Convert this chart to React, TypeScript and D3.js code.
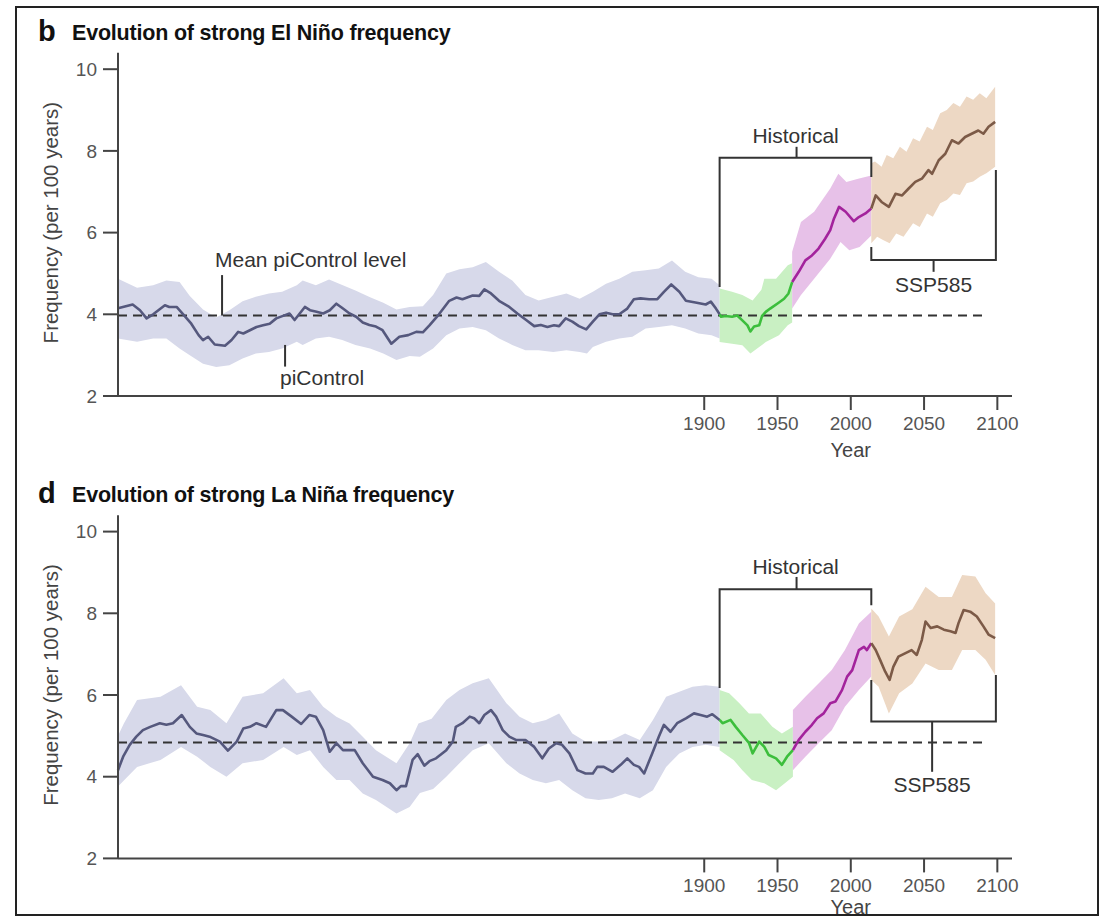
import React from "react";
import * as d3 from "d3";

type P = [number, number];

// ---------- axes ----------
const yearTicks = [1900, 1950, 2000, 2050, 2100];
const freqTicks = [2, 4, 6, 8, 10];

// ---------- El Niño (panel b) ----------
const elPiMean: P[] = [
  [1500, 4.15], [1510, 4.24], [1515, 4.1], [1519.5, 3.9], [1524, 4.0], [1532, 4.22], [1535, 4.18], [1540, 4.18],
  [1544.5, 4.0], [1550, 3.77], [1555, 3.49], [1558, 3.37], [1561.5, 3.45], [1566, 3.26], [1573, 3.23], [1577.5, 3.37],
  [1582, 3.57], [1585.5, 3.53], [1590, 3.61], [1594.5, 3.69], [1599, 3.73], [1603.5, 3.77], [1608, 3.9], [1614, 3.98],
  [1617, 4.02], [1620.5, 3.86], [1624, 4.02], [1627.5, 4.18], [1631, 4.1], [1635.5, 4.06], [1640, 4.02], [1644.5, 4.1],
  [1649, 4.26], [1653.5, 4.14], [1658, 4.02], [1662.5, 3.94], [1667, 3.8], [1671.5, 3.74], [1676, 3.7], [1680.5, 3.61],
  [1686.5, 3.28], [1692, 3.45], [1698, 3.49], [1703.5, 3.57], [1708, 3.56], [1712.5, 3.73], [1719, 4.0], [1726, 4.33],
  [1731, 4.41], [1735, 4.37], [1742, 4.46], [1746.5, 4.45], [1750, 4.61], [1754.5, 4.51], [1760, 4.33], [1767, 4.18],
  [1772.5, 4.02], [1778.5, 3.86], [1784, 3.71], [1788.5, 3.74], [1793, 3.69], [1797.5, 3.73], [1801, 3.71], [1805.5, 3.9],
  [1810, 3.82], [1814.5, 3.71], [1819.5, 3.63], [1824, 3.82], [1828.5, 4.0], [1833, 4.04], [1837.5, 4.0], [1842, 4.0],
  [1847.5, 4.14], [1852, 4.37], [1856.5, 4.39], [1862.5, 4.37], [1868, 4.37], [1872.5, 4.55], [1877.5, 4.73], [1883, 4.55],
  [1887.5, 4.33], [1894, 4.29], [1901, 4.24], [1904.5, 4.31], [1908, 4.14], [1910.5, 4.0],
];
const elPiUpper: P[] = [
  [1500, 4.87], [1513, 4.65], [1524, 4.71], [1533, 4.83], [1542, 4.79], [1549, 4.45], [1558, 4.12], [1567, 3.92],
  [1576, 4.1], [1585, 4.32], [1594, 4.43], [1603, 4.51], [1612, 4.55], [1622, 4.71], [1626, 4.83], [1635, 4.71],
  [1644, 4.85], [1653, 4.72], [1662, 4.58], [1672, 4.42], [1681, 4.28], [1690, 4.12], [1699, 4.18], [1708, 4.2],
  [1715, 4.47], [1724, 5.0], [1733, 5.1], [1742, 5.15], [1751, 5.28], [1760, 5.04], [1769, 4.83], [1778, 4.47],
  [1787, 4.34], [1797, 4.43], [1806, 4.51], [1815, 4.38], [1824, 4.55], [1833, 4.75], [1842, 4.87], [1851, 5.04],
  [1860, 5.08], [1869, 5.12], [1878, 5.32], [1887, 5.04], [1896, 4.91], [1905, 4.87], [1910.5, 4.71],
];
const elPiLower: P[] = [
  [1500, 3.41], [1513, 3.33], [1524, 3.41], [1533, 3.41], [1542, 3.16], [1549, 3.0], [1558, 2.79], [1567, 2.71],
  [1576, 2.75], [1585, 2.92], [1594, 3.04], [1603, 3.08], [1612, 3.16], [1622, 3.33], [1626, 3.25], [1635, 3.41],
  [1644, 3.45], [1653, 3.37], [1662, 3.25], [1672, 3.16], [1681, 3.04], [1690, 2.88], [1699, 2.98], [1706, 2.96],
  [1715, 3.16], [1724, 3.49], [1733, 3.65], [1742, 3.69], [1751, 3.61], [1760, 3.41], [1769, 3.25], [1778, 3.12],
  [1787, 3.12], [1797, 3.08], [1806, 3.12], [1815, 3.08], [1820, 3.04], [1824, 3.2], [1833, 3.33], [1842, 3.41],
  [1851, 3.45], [1860, 3.65], [1869, 3.69], [1878, 3.73], [1887, 3.65], [1896, 3.53], [1905, 3.49], [1910.5, 3.41],
];
const elHistEarlyMean: P[] = [
  [1910.5, 4.0], [1911.5, 3.94], [1914.5, 3.96], [1919, 3.94], [1922.5, 3.97], [1926, 3.85], [1929.5, 3.73],
  [1931.5, 3.58], [1934, 3.7], [1937.5, 3.73], [1939.5, 3.96], [1942, 4.06], [1945, 4.14], [1951, 4.29],
  [1954.5, 4.38], [1957.5, 4.51], [1960, 4.79],
];
const elHistEarlyUpper: P[] = [
  [1910.5, 4.63], [1919, 4.55], [1926, 4.47], [1933, 4.34], [1939, 4.6], [1941, 4.87], [1949, 4.87], [1957, 5.2], [1960, 5.25],
];
const elHistEarlyLower: P[] = [
  [1910.5, 3.32], [1919, 3.28], [1926, 3.24], [1931.5, 3.04], [1937.5, 3.2], [1942, 3.32], [1951, 3.49], [1957, 3.73], [1960, 3.8],
];
const elHistLateMean: P[] = [
  [1960, 4.79], [1964.5, 5.04], [1969, 5.32], [1973.5, 5.44], [1978, 5.61], [1982.5, 5.85], [1986, 6.06],
  [1988.5, 6.34], [1992, 6.63], [1996.5, 6.51], [2002, 6.28], [2005.5, 6.38], [2010, 6.47], [2014, 6.59],
];
const elHistLateUpper: P[] = [
  [1960, 5.53], [1966, 6.26], [1975, 6.51], [1986, 7.08], [1991.5, 7.44], [1997, 7.24], [2005, 7.32], [2014, 7.4],
];
const elHistLateLower: P[] = [
  [1960, 4.14], [1966, 4.47], [1975, 4.87], [1986, 5.36], [1993, 5.77], [1999, 5.57], [2006, 5.65], [2014, 5.93],
];
const elSspMean: P[] = [
  [2014, 6.59], [2017, 6.91], [2021, 6.75], [2026, 6.63], [2030.5, 6.95], [2035, 6.91], [2039.5, 7.08], [2044, 7.24],
  [2048.5, 7.32], [2053, 7.53], [2055.5, 7.44], [2060, 7.77], [2064.5, 7.93], [2069, 8.26], [2073.5, 8.18], [2078, 8.34],
  [2082.5, 8.42], [2087, 8.5], [2090.5, 8.42], [2094, 8.59], [2098.5, 8.71],
];
const elSspUpper: P[] = [
  [2014, 7.7], [2016.5, 7.74], [2021, 7.61], [2024.5, 7.9], [2029, 7.82], [2033.5, 8.1], [2038, 7.98], [2042.5, 8.31],
  [2047, 8.23], [2052, 8.59], [2056, 8.51], [2061, 8.92], [2065.5, 9.0], [2070, 9.17], [2074.5, 9.08], [2079, 9.33],
  [2083.5, 9.25], [2088, 9.41], [2092.5, 9.29], [2098.5, 9.57],
];
const elSspLower: P[] = [
  [2014, 5.74], [2018, 5.9], [2022, 5.82], [2026.5, 5.74], [2031, 5.98], [2036, 5.9], [2042.5, 6.23], [2047, 6.14],
  [2052, 6.47], [2056, 6.39], [2061, 6.72], [2065.5, 6.8], [2070, 6.96], [2074.5, 6.92], [2079, 7.21], [2083.5, 7.25],
  [2088, 7.37], [2092.5, 7.45], [2098.5, 7.61],
];
const elMeanLevel = 3.97;

// ---------- La Niña (panel d) ----------
const laPiMean: P[] = [
  [1500, 4.16], [1503.5, 4.49], [1508, 4.78], [1512.5, 4.98], [1517, 5.14], [1522, 5.22], [1528.5, 5.31], [1533, 5.27],
  [1537.5, 5.31], [1543.5, 5.51], [1549, 5.22], [1553.5, 5.06], [1558, 5.02], [1562.5, 4.98], [1569.5, 4.86], [1575, 4.64],
  [1581, 4.86], [1585.5, 5.18], [1590, 5.22], [1594.5, 5.31], [1601, 5.22], [1608, 5.63], [1612.5, 5.63], [1618.5, 5.47],
  [1625, 5.29], [1630.5, 5.51], [1635, 5.47], [1640, 5.14], [1644.5, 4.61], [1649, 4.82], [1653.5, 4.65], [1661.5, 4.65],
  [1667, 4.33], [1674, 4.0], [1680.5, 3.92], [1685.5, 3.84], [1690, 3.67], [1693, 3.77], [1696.5, 3.77], [1701, 4.41],
  [1704.5, 4.55], [1709, 4.27], [1712.5, 4.38], [1717, 4.45], [1724, 4.65], [1728.5, 4.86], [1730.5, 5.22], [1735, 5.31],
  [1740, 5.47], [1743, 5.43], [1746.5, 5.31], [1750, 5.51], [1754.5, 5.63], [1758, 5.47], [1762.5, 5.14], [1767, 4.98],
  [1771.5, 4.9], [1778, 4.9], [1784, 4.73], [1789.5, 4.45], [1794, 4.69], [1799, 4.82], [1803, 4.78], [1808, 4.57],
  [1813.5, 4.16], [1819, 4.08], [1824, 4.08], [1827, 4.24], [1831.5, 4.24], [1837.5, 4.12], [1843, 4.29], [1847.5, 4.45],
  [1852, 4.29], [1855.5, 4.24], [1859, 4.08], [1864.5, 4.57], [1869, 4.98], [1872.5, 5.27], [1877, 5.1], [1881.5, 5.31],
  [1887.5, 5.43], [1893, 5.55], [1897.5, 5.51], [1902, 5.47], [1905.5, 5.53], [1909, 5.43], [1910.5, 5.39],
];
const laPiUpper: P[] = [
  [1500, 5.0], [1504, 5.3], [1513, 5.88], [1529, 5.96], [1543, 6.24], [1554, 5.71], [1563, 5.63], [1574, 5.31],
  [1585, 5.96], [1599, 6.04], [1613, 6.41], [1622, 6.04], [1631, 6.12], [1640, 5.71], [1649, 5.47], [1658, 5.3],
  [1667, 4.98], [1676, 4.65], [1690, 4.33], [1699, 4.82], [1705, 5.3], [1714, 5.42], [1724, 5.88], [1733, 6.12],
  [1742, 6.29], [1753, 6.41], [1765, 5.8], [1774, 5.47], [1783, 5.31], [1792, 5.39], [1801, 5.55], [1810, 5.06],
  [1819, 4.86], [1828, 4.86], [1837, 4.9], [1846, 5.06], [1856, 4.9], [1865, 5.39], [1874, 5.96], [1883, 6.08],
  [1892, 6.2], [1901, 6.24], [1910.5, 6.2],
];
const laPiLower: P[] = [
  [1500, 3.76], [1513, 4.24], [1529, 4.41], [1543, 4.73], [1554, 4.49], [1563, 4.24], [1574, 4.0], [1585, 4.33],
  [1599, 4.41], [1613, 4.73], [1622, 4.53], [1631, 4.65], [1640, 4.24], [1649, 3.92], [1658, 3.92], [1667, 3.59],
  [1676, 3.43], [1690, 3.1], [1699, 3.26], [1706, 3.6], [1715, 3.7], [1724, 4.0], [1733, 4.33], [1742, 4.65],
  [1753, 4.82], [1765, 4.33], [1774, 4.08], [1783, 3.92], [1792, 3.84], [1801, 3.92], [1810, 3.67], [1819, 3.47],
  [1828, 3.43], [1837, 3.47], [1846, 3.59], [1856, 3.47], [1865, 3.67], [1874, 4.24], [1883, 4.57], [1892, 4.73],
  [1901, 4.78], [1910.5, 4.73],
];
const laHistEarlyMean: P[] = [
  [1910.5, 5.39], [1912.5, 5.31], [1918, 5.39], [1921.5, 5.22], [1926, 5.02], [1930.5, 4.83], [1933, 4.57],
  [1937.5, 4.86], [1941, 4.73], [1944, 4.53], [1949, 4.45], [1953, 4.29], [1956.5, 4.49], [1960.5, 4.65],
];
const laHistEarlyUpper: P[] = [
  [1910.5, 6.12], [1917, 6.04], [1924, 5.8], [1930.5, 5.55], [1938.5, 5.55], [1946.5, 5.22], [1953, 5.06], [1960.5, 5.22],
];
const laHistEarlyLower: P[] = [
  [1910.5, 4.65], [1920, 4.41], [1926, 4.16], [1932.5, 3.92], [1941, 3.84], [1949, 3.67], [1955, 3.84], [1960.5, 4.0],
];
const laHistLateMean: P[] = [
  [1960.5, 4.65], [1964.5, 4.9], [1969, 5.1], [1973.5, 5.27], [1977, 5.43], [1981.5, 5.55], [1986, 5.8], [1989.5, 5.84],
  [1994, 6.12], [1997.5, 6.45], [2001, 6.61], [2005.5, 7.1], [2009, 7.18], [2011, 7.1], [2014, 7.27],
];
const laHistLateUpper: P[] = [
  [1960.5, 5.63], [1969, 5.96], [1978, 6.28], [1987, 6.61], [1996, 7.1], [2005.5, 7.75], [2014, 8.04],
];
const laHistLateLower: P[] = [
  [1960.5, 4.16], [1969, 4.49], [1978, 4.82], [1987, 5.14], [1996, 5.71], [2005.5, 6.12], [2014, 6.45],
];
const laSspMean: P[] = [
  [2014, 7.27], [2017, 7.1], [2020, 6.86], [2023.5, 6.57], [2026.5, 6.37], [2029, 6.69], [2032.5, 6.94], [2037, 7.02],
  [2041.5, 7.1], [2045, 6.98], [2048.5, 7.35], [2051, 7.8], [2054.5, 7.64], [2059, 7.68], [2063.5, 7.6], [2068, 7.56],
  [2071.5, 7.52], [2073.5, 7.76], [2077, 8.08], [2081.5, 8.04], [2086, 7.92], [2090.5, 7.68], [2094, 7.48], [2098.5, 7.39],
];
const laSspUpper: P[] = [
  [2014, 8.12], [2019, 7.92], [2026, 7.43], [2033, 7.92], [2042, 8.1], [2051, 8.65], [2060, 8.4], [2069, 8.4],
  [2076, 8.94], [2085, 8.9], [2092, 8.49], [2098.5, 8.24],
];
const laSspLower: P[] = [
  [2014, 6.37], [2019, 6.2], [2026, 5.55], [2033, 6.04], [2042, 6.28], [2051, 6.77], [2060, 6.61], [2069, 6.61],
  [2076, 7.1], [2085, 7.1], [2092, 6.86], [2098.5, 6.49],
];
const laMeanLevel = 4.84;

// ---------- styling ----------
const FONT = "'Liberation Sans', Arial, Helvetica, sans-serif";
const PI = { line: "#55587d", band: "#d7d9ea" };
const HA = { line: "#3cbe3c", band: "#c9f0c3" };
const HB = { line: "#a3239c", band: "#e7c1e8" };
const SSP = { line: "#7c5a47", band: "#edd8c4" };
const INK = "#333";

const xScale = d3.scaleLinear().domain([1500, 2110]).range([118, 1012]);

type Series = { mean: P[]; upper: P[]; lower: P[]; c: { line: string; band: string } };

type Ann = {
  histTop: number; histLeftBottom: number; histRightBottom: number; histTickTop: number; histText: number;
  sspBar: number; sspLeftTop: number; sspRightTop: number; sspTickBottom: number; sspText: number; sspCenter: number;
};

function Panel(props: {
  offset: number; letter: string; title: string; series: Series[]; level: number; levelEnd: number; ann: Ann;
  extra?: boolean; yearBaseline: number;
}) {
  const { offset, letter, title, series, level, levelEnd, ann, extra, yearBaseline } = props;
  const y = d3.scaleLinear().domain([2, 10]).range([396 + offset, 69.2 + offset]);
  const x = xScale;
  const line = d3.line<P>().x((d) => x(d[0])).y((d) => y(d[1]));
  const band = (u: P[], l: P[]) => {
    const a = line(u) as string;
    const b = line([...l].reverse()) as string;
    return a + "L" + b.slice(1) + "Z";
  };
  const x0 = x(1500);
  const yBase = y(2);
  const hL = x(1910.5), hR = x(2014), hC = x(1963), sR = x(2099);
  const sC = x(ann.sspCenter);
  return (
    <g>
      <text x={38} y={41 + offset} fontFamily={FONT} fontWeight={700} fontSize={29} fill="#111">{letter}</text>
      <text x={72} y={40 + offset} fontFamily={FONT} fontWeight={700} fontSize={21.5} fill="#111" letterSpacing={-0.2}>{title}</text>

      {series.map((s, i) => (
        <path key={"b" + i} d={band(s.upper, s.lower)} fill={s.c.band} stroke="none" />
      ))}
      <line x1={x0} x2={x(levelEnd)} y1={y(level)} y2={y(level)} stroke={INK} strokeWidth={2} strokeDasharray="9 6" />
      {series.map((s, i) => (
        <path key={"l" + i} d={line(s.mean) as string} fill="none" stroke={s.c.line} strokeWidth={2.6} strokeLinejoin="round" />
      ))}

      {/* axes */}
      <line x1={x0} x2={x0} y1={y(10.4)} y2={yBase} stroke="#444" strokeWidth={2} />
      <line x1={x0} x2={x(2110)} y1={yBase} y2={yBase} stroke="#444" strokeWidth={2} />
      {freqTicks.map((t) => (
        <g key={"yt" + t}>
          <line x1={x0 - 15} x2={x0} y1={y(t)} y2={y(t)} stroke="#444" strokeWidth={2} />
          <text x={97} y={y(t)} dy="0.35em" textAnchor="end" fontFamily={FONT} fontSize={19} fill="#555">{t}</text>
        </g>
      ))}
      {yearTicks.map((t) => (
        <g key={"xt" + t}>
          <line x1={x(t)} x2={x(t)} y1={yBase} y2={yBase + 14} stroke="#444" strokeWidth={2} />
          <text x={x(t)} y={yBase + 34} textAnchor="middle" fontFamily={FONT} fontSize={19} fill="#555">{t}</text>
        </g>
      ))}
      <text x={x(2000)} y={yearBaseline} textAnchor="middle" fontFamily={FONT} fontSize={20} fill="#444">Year</text>
      <text transform={`translate(50,${(y(2) + y(10)) / 2 - 10}) rotate(-90)`} textAnchor="middle" dominantBaseline="central"
        fontFamily={FONT} fontSize={20.5} fill="#444">Frequency (per 100 years)</text>

      {/* Historical bracket */}
      <path d={`M${hL},${y(ann.histLeftBottom)}V${y(ann.histTop)}H${hR}V${y(ann.histRightBottom)}`} fill="none" stroke={INK} strokeWidth={2} />
      <line x1={hC} x2={hC} y1={y(ann.histTop)} y2={y(ann.histTickTop)} stroke={INK} strokeWidth={2} />
      <text x={hC - 1} y={y(ann.histText)} textAnchor="middle" fontFamily={FONT} fontSize={21} fill={INK}>Historical</text>

      {/* SSP585 bracket */}
      <path d={`M${hR},${y(ann.sspLeftTop)}V${y(ann.sspBar)}H${sR}V${y(ann.sspRightTop)}`} fill="none" stroke={INK} strokeWidth={2} />
      <line x1={sC} x2={sC} y1={y(ann.sspBar)} y2={y(ann.sspTickBottom)} stroke={INK} strokeWidth={2} />
      <text x={sC} y={y(ann.sspText)} textAnchor="middle" fontFamily={FONT} fontSize={21} fill={INK}>SSP585</text>

      {extra && (
        <g>
          <line x1={x(1571)} x2={x(1571)} y1={y(4.96)} y2={y(level)} stroke={INK} strokeWidth={2} />
          <text x={215} y={y(5.15)} fontFamily={FONT} fontSize={21} fill={INK}>Mean piControl level</text>
          <line x1={x(1614)} x2={x(1614)} y1={y(3.25)} y2={y(2.72)} stroke={INK} strokeWidth={2} />
          <text x={280} y={y(2.27)} fontFamily={FONT} fontSize={21} fill={INK}>piControl</text>
        </g>
      )}
    </g>
  );
}

const elSeries: Series[] = [
  { mean: elPiMean, upper: elPiUpper, lower: elPiLower, c: PI },
  { mean: elHistEarlyMean, upper: elHistEarlyUpper, lower: elHistEarlyLower, c: HA },
  { mean: elHistLateMean, upper: elHistLateUpper, lower: elHistLateLower, c: HB },
  { mean: elSspMean, upper: elSspUpper, lower: elSspLower, c: SSP },
];
const laSeries: Series[] = [
  { mean: laPiMean, upper: laPiUpper, lower: laPiLower, c: PI },
  { mean: laHistEarlyMean, upper: laHistEarlyUpper, lower: laHistEarlyLower, c: HA },
  { mean: laHistLateMean, upper: laHistLateUpper, lower: laHistLateLower, c: HB },
  { mean: laSspMean, upper: laSspUpper, lower: laSspLower, c: SSP },
];

const elAnn: Ann = {
  histTop: 7.83, histLeftBottom: 4.67, histRightBottom: 7.36, histTickTop: 8.1, histText: 8.19,
  sspBar: 5.33, sspLeftTop: 5.65, sspRightTop: 7.53, sspTickBottom: 5.04, sspText: 4.55, sspCenter: 2056.5,
};
const laAnn: Ann = {
  histTop: 8.59, histLeftBottom: 6.17, histRightBottom: 8.2, histTickTop: 8.89, histText: 8.96,
  sspBar: 5.35, sspLeftTop: 6.37, sspRightTop: 6.49, sspTickBottom: 4.12, sspText: 3.63, sspCenter: 2055.5,
};

export default function App() {
  return (
    <div style={{ position: "absolute", left: 0, top: 0 }}>
      <svg width={1106} height={919} style={{ display: "block", background: "#fff" }}>
        <Panel offset={0} letter="b" title="Evolution of strong El Niño frequency" series={elSeries}
          level={elMeanLevel} levelEnd={2090} ann={elAnn} extra yearBaseline={457} />
        <Panel offset={462.4} letter="d" title="Evolution of strong La Niña frequency" series={laSeries}
          level={laMeanLevel} levelEnd={2093} ann={laAnn} yearBaseline={914} />
        <rect x={16} y={7} width={1082} height={908} fill="none" stroke="#222" strokeWidth={2} />
      </svg>
    </div>
  );
}
